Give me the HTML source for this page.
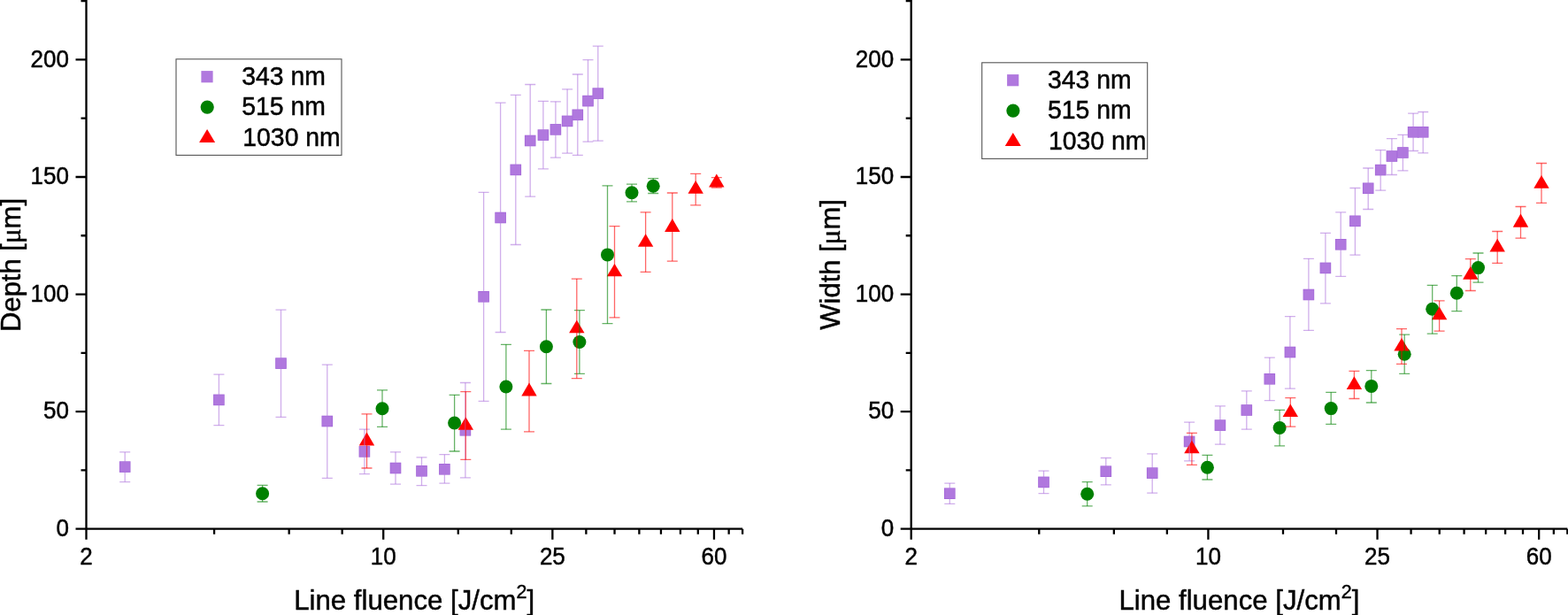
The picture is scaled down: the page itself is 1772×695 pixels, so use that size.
<!DOCTYPE html>
<html><head><meta charset="utf-8"><style>
html,body{margin:0;padding:0;background:#fff;}
body{width:1772px;height:695px;overflow:hidden;}
svg{display:block;font-family:"Liberation Sans",Arial,sans-serif;}
text{stroke:#000;stroke-width:0.45px;}
</style></head><body>
<svg width="1772" height="695" viewBox="0 0 1772 695">
<rect width="1772" height="695" fill="#fff"/>
<path d="M97.5 0V597.7H839.12M85.5 597.7H97.5M85.5 465.13H97.5M85.5 332.55H97.5M85.5 199.98H97.5M85.5 67.4H97.5M91.5 531.41H97.5M91.5 398.84H97.5M91.5 266.26H97.5M91.5 133.69H97.5M91.5 1.11H97.5M97.5 597.7V609.7M433.22 597.7V609.7M624.35 597.7V609.7M806.96 597.7V609.7M242.08 597.7V603.7M326.66 597.7V603.7M386.67 597.7V603.7M517.79 597.7V603.7M577.8 597.7V603.7M662.38 597.7V603.7M694.53 597.7V603.7M722.38 597.7V603.7M746.95 597.7V603.7M768.93 597.7V603.7M788.81 597.7V603.7M823.66 597.7V603.7M839.12 597.7V603.7" stroke="#000" stroke-width="2.3" fill="none"/>
<g font-size="26" text-anchor="end">
<text transform="matrix(1 0 0 1.045 77.9 606)">0</text>
<text transform="matrix(1 0 0 1.045 77.9 473.43)">50</text>
<text transform="matrix(1 0 0 1.045 77.9 340.85)">100</text>
<text transform="matrix(1 0 0 1.045 77.9 208.28)">150</text>
<text transform="matrix(1 0 0 1.045 77.9 75.7)">200</text>
</g><g font-size="26" text-anchor="middle">
<text transform="matrix(1 0 0 1.045 97.5 637.5)">2</text>
<text transform="matrix(1 0 0 1.045 433.22 637.5)">10</text>
<text transform="matrix(1 0 0 1.045 624.35 637.5)">25</text>
<text transform="matrix(1 0 0 1.045 806.96 637.5)">60</text>
</g>
<text x="332.2" y="689" font-size="31.2">Line fluence [J/cm<tspan font-size="21.4" dy="-12.8">2</tspan><tspan dy="12.8">]</tspan></text>
<text transform="translate(23 375) rotate(-90)" font-size="31">Depth [<tspan font-family="Liberation Serif">μ</tspan>m]</text>
<rect x="199" y="66.8" width="187" height="108.6" fill="none" stroke="#555" stroke-width="1.1"/>
<rect x="227.4" y="80.1" width="13.2" height="13.2" fill="#B078DE"/>
<circle cx="234.2" cy="121.1" r="7.6" fill="#008000"/>
<path d="M234.1 145.9l9 15.1h-18z" fill="#FF0000"/>
<g font-size="28.4">
<text transform="matrix(1 0 0 1.045 273.2 96.3)">343 nm</text>
<text transform="matrix(1 0 0 1.045 273.2 130.4)">515 nm</text>
<text transform="matrix(1 0 0 1.045 274.3 165)">1030 nm</text>
</g>
<g fill="#A264D8"><rect x="134.9" y="521.3" width="12.6" height="12.6"/><rect x="241.1" y="445.6" width="12.6" height="12.6"/><rect x="311.2" y="404.3" width="12.6" height="12.6"/><rect x="363.5" y="469.7" width="12.6" height="12.6"/><rect x="405.6" y="504.1" width="12.6" height="12.6"/><rect x="440.7" y="522.7" width="12.6" height="12.6"/><rect x="470.2" y="526" width="12.6" height="12.6"/><rect x="496.1" y="524" width="12.6" height="12.6"/><rect x="519.6" y="480" width="12.6" height="12.6"/><rect x="540.3" y="329" width="12.6" height="12.6"/><rect x="559.3" y="239.7" width="12.6" height="12.6"/><rect x="576.5" y="185.6" width="12.6" height="12.6"/><rect x="592.9" y="152.7" width="12.6" height="12.6"/><rect x="607.6" y="146.3" width="12.6" height="12.6"/><rect x="621.6" y="140.1" width="12.6" height="12.6"/><rect x="634.8" y="130.6" width="12.6" height="12.6"/><rect x="646.5" y="123.5" width="12.6" height="12.6"/><rect x="658.2" y="107.8" width="12.6" height="12.6"/><rect x="669.5" y="99.3" width="12.6" height="12.6"/></g>
<g fill="#B078DE"><rect x="135.6" y="522" width="11.2" height="11.2"/><rect x="241.8" y="446.3" width="11.2" height="11.2"/><rect x="311.9" y="405" width="11.2" height="11.2"/><rect x="364.2" y="470.4" width="11.2" height="11.2"/><rect x="406.3" y="504.8" width="11.2" height="11.2"/><rect x="441.4" y="523.4" width="11.2" height="11.2"/><rect x="470.9" y="526.7" width="11.2" height="11.2"/><rect x="496.8" y="524.7" width="11.2" height="11.2"/><rect x="520.3" y="480.7" width="11.2" height="11.2"/><rect x="541" y="329.7" width="11.2" height="11.2"/><rect x="560" y="240.4" width="11.2" height="11.2"/><rect x="577.2" y="186.3" width="11.2" height="11.2"/><rect x="593.6" y="153.4" width="11.2" height="11.2"/><rect x="608.3" y="147" width="11.2" height="11.2"/><rect x="622.3" y="140.8" width="11.2" height="11.2"/><rect x="635.5" y="131.3" width="11.2" height="11.2"/><rect x="647.2" y="124.2" width="11.2" height="11.2"/><rect x="658.9" y="108.5" width="11.2" height="11.2"/><rect x="670.2" y="100" width="11.2" height="11.2"/></g>
<g fill="#008000"><circle cx="296.6" cy="557.7" r="7.5"/><circle cx="432" cy="461.8" r="7.5"/><circle cx="513.6" cy="478" r="7.5"/><circle cx="571.9" cy="437" r="7.5"/><circle cx="617.4" cy="391.7" r="7.5"/><circle cx="654.9" cy="386.5" r="7.5"/><circle cx="686.5" cy="287.9" r="7.5"/><circle cx="714" cy="217.7" r="7.5"/><circle cx="738.2" cy="210.2" r="7.5"/></g>
<g fill="#FF0000"><path d="M414.5 488.4L423.2 503.4H405.8Z"/><path d="M526.3 471.3L535 485.7H517.6Z"/><path d="M598 432.6L606.7 447.4H589.3Z"/><path d="M651.8 361.8L660.5 376.3H643.1Z"/><path d="M694.5 298L703.2 312.3H685.8Z"/><path d="M729.6 264.3L738.3 278.7H720.9Z"/><path d="M759.8 247L768.5 262H751.1Z"/><path d="M786.2 203.9L794.9 218.8H777.5Z"/><path d="M809.8 196.4L818.5 211.5H801.1Z"/></g>
<g fill="none" stroke-width="1.3" stroke-opacity="0.6">
<path d="M141.2 510.9V544.6" stroke="#B078DE"/><path d="M135.2 510.9H147.2M135.2 544.6H147.2" stroke="#B078DE"/>
<path d="M247.4 423.2V480.7" stroke="#B078DE"/><path d="M241.4 423.2H253.4M241.4 480.7H253.4" stroke="#B078DE"/>
<path d="M317.5 350.2V471.4" stroke="#B078DE"/><path d="M311.5 350.2H323.5M311.5 471.4H323.5" stroke="#B078DE"/>
<path d="M369.8 412.1V540.3" stroke="#B078DE"/><path d="M363.8 412.1H375.8M363.8 540.3H375.8" stroke="#B078DE"/>
<path d="M411.9 485.1V535.6" stroke="#B078DE"/><path d="M405.9 485.1H417.9M405.9 535.6H417.9" stroke="#B078DE"/>
<path d="M447 510.8V547.1" stroke="#B078DE"/><path d="M441 510.8H453M441 547.1H453" stroke="#B078DE"/>
<path d="M476.5 516.8V548.7" stroke="#B078DE"/><path d="M470.5 516.8H482.5M470.5 548.7H482.5" stroke="#B078DE"/>
<path d="M502.4 513.7V546.1" stroke="#B078DE"/><path d="M496.4 513.7H508.4M496.4 546.1H508.4" stroke="#B078DE"/>
<path d="M525.9 432.5V539.8" stroke="#B078DE"/><path d="M519.9 432.5H531.9M519.9 539.8H531.9" stroke="#B078DE"/>
<path d="M546.6 217.3V453.4" stroke="#B078DE"/><path d="M540.6 217.3H552.6M540.6 453.4H552.6" stroke="#B078DE"/>
<path d="M565.6 116.2V375.5" stroke="#B078DE"/><path d="M559.6 116.2H571.6M559.6 375.5H571.6" stroke="#B078DE"/>
<path d="M582.8 107.4V276.5" stroke="#B078DE"/><path d="M576.8 107.4H588.8M576.8 276.5H588.8" stroke="#B078DE"/>
<path d="M599.2 95.5V222.2" stroke="#B078DE"/><path d="M593.2 95.5H605.2M593.2 222.2H605.2" stroke="#B078DE"/>
<path d="M613.9 114.4V190.8" stroke="#B078DE"/><path d="M607.9 114.4H619.9M607.9 190.8H619.9" stroke="#B078DE"/>
<path d="M627.9 114.8V178.1" stroke="#B078DE"/><path d="M621.9 114.8H633.9M621.9 178.1H633.9" stroke="#B078DE"/>
<path d="M641.1 100.8V173.1" stroke="#B078DE"/><path d="M635.1 100.8H647.1M635.1 173.1H647.1" stroke="#B078DE"/>
<path d="M652.8 84V175.4" stroke="#B078DE"/><path d="M646.8 84H658.8M646.8 175.4H658.8" stroke="#B078DE"/>
<path d="M664.5 67.6V160.2" stroke="#B078DE"/><path d="M658.5 67.6H670.5M658.5 160.2H670.5" stroke="#B078DE"/>
<path d="M675.8 52.2V159.2" stroke="#B078DE"/><path d="M669.8 52.2H681.8M669.8 159.2H681.8" stroke="#B078DE"/>
<path d="M296.6 548.4V567" stroke="#008000"/><path d="M290.6 548.4H302.6M290.6 567H302.6" stroke="#008000"/>
<path d="M432 440.9V482.4" stroke="#008000"/><path d="M426 440.9H438M426 482.4H438" stroke="#008000"/>
<path d="M513.6 446.3V510" stroke="#008000"/><path d="M507.6 446.3H519.6M507.6 510H519.6" stroke="#008000"/>
<path d="M571.9 389.3V485.2" stroke="#008000"/><path d="M565.9 389.3H577.9M565.9 485.2H577.9" stroke="#008000"/>
<path d="M617.4 350V433.5" stroke="#008000"/><path d="M611.4 350H623.4M611.4 433.5H623.4" stroke="#008000"/>
<path d="M654.9 350.7V422.3" stroke="#008000"/><path d="M648.9 350.7H660.9M648.9 422.3H660.9" stroke="#008000"/>
<path d="M686.5 209.8V365.7" stroke="#008000"/><path d="M680.5 209.8H692.5M680.5 365.7H692.5" stroke="#008000"/>
<path d="M714 208.2V227.8" stroke="#008000"/><path d="M708 208.2H720M708 227.8H720" stroke="#008000"/>
<path d="M738.2 201.6V218.5" stroke="#008000"/><path d="M732.2 201.6H744.2M732.2 218.5H744.2" stroke="#008000"/>
<path d="M414.5 467.8V529" stroke="#FF0000"/><path d="M408.5 467.8H420.5M408.5 529H420.5" stroke="#FF0000"/>
<path d="M526.3 442.6V519.4" stroke="#FF0000"/><path d="M520.3 442.6H532.3M520.3 519.4H532.3" stroke="#FF0000"/>
<path d="M598 396.4V487.8" stroke="#FF0000"/><path d="M592 396.4H604M592 487.8H604" stroke="#FF0000"/>
<path d="M651.8 315.1V427.6" stroke="#FF0000"/><path d="M645.8 315.1H657.8M645.8 427.6H657.8" stroke="#FF0000"/>
<path d="M694.5 255.7V358.9" stroke="#FF0000"/><path d="M688.5 255.7H700.5M688.5 358.9H700.5" stroke="#FF0000"/>
<path d="M729.6 239.8V307.4" stroke="#FF0000"/><path d="M723.6 239.8H735.6M723.6 307.4H735.6" stroke="#FF0000"/>
<path d="M759.8 218V295.1" stroke="#FF0000"/><path d="M753.8 218H765.8M753.8 295.1H765.8" stroke="#FF0000"/>
<path d="M786.2 196.4V231.8" stroke="#FF0000"/><path d="M780.2 196.4H792.2M780.2 231.8H792.2" stroke="#FF0000"/>
<path d="M809.8 200.6V212" stroke="#FF0000"/><path d="M803.8 200.6H815.8M803.8 212H815.8" stroke="#FF0000"/>
</g>
<path d="M1029.7 0V597.7H1771.32M1017.7 597.7H1029.7M1017.7 465.13H1029.7M1017.7 332.55H1029.7M1017.7 199.98H1029.7M1017.7 67.4H1029.7M1023.7 531.41H1029.7M1023.7 398.84H1029.7M1023.7 266.26H1029.7M1023.7 133.69H1029.7M1023.7 1.11H1029.7M1029.7 597.7V609.7M1365.42 597.7V609.7M1556.55 597.7V609.7M1739.16 597.7V609.7M1174.28 597.7V603.7M1258.86 597.7V603.7M1318.87 597.7V603.7M1449.99 597.7V603.7M1510 597.7V603.7M1594.58 597.7V603.7M1626.73 597.7V603.7M1654.58 597.7V603.7M1679.15 597.7V603.7M1701.13 597.7V603.7M1721.01 597.7V603.7M1755.86 597.7V603.7M1771.32 597.7V603.7" stroke="#000" stroke-width="2.3" fill="none"/>
<g font-size="26" text-anchor="end">
<text transform="matrix(1 0 0 1.045 1010.1 606)">0</text>
<text transform="matrix(1 0 0 1.045 1010.1 473.43)">50</text>
<text transform="matrix(1 0 0 1.045 1010.1 340.85)">100</text>
<text transform="matrix(1 0 0 1.045 1010.1 208.28)">150</text>
<text transform="matrix(1 0 0 1.045 1010.1 75.7)">200</text>
</g><g font-size="26" text-anchor="middle">
<text transform="matrix(1 0 0 1.045 1029.7 637.5)">2</text>
<text transform="matrix(1 0 0 1.045 1365.42 637.5)">10</text>
<text transform="matrix(1 0 0 1.045 1556.55 637.5)">25</text>
<text transform="matrix(1 0 0 1.045 1739.16 637.5)">60</text>
</g>
<text x="1264.4" y="689" font-size="31.2">Line fluence [J/cm<tspan font-size="21.4" dy="-12.8">2</tspan><tspan dy="12.8">]</tspan></text>
<text transform="translate(948.8 372.7) rotate(-90)" font-size="31">Width [<tspan font-family="Liberation Serif">μ</tspan>m]</text>
<rect x="1109.7" y="70.8" width="187" height="108.6" fill="none" stroke="#555" stroke-width="1.1"/>
<rect x="1138.1" y="84.1" width="13.2" height="13.2" fill="#B078DE"/>
<circle cx="1144.9" cy="125.1" r="7.6" fill="#008000"/>
<path d="M1144.8 149.9l9 15.1h-18z" fill="#FF0000"/>
<g font-size="28.4">
<text transform="matrix(1 0 0 1.045 1183.9 100.3)">343 nm</text>
<text transform="matrix(1 0 0 1.045 1183.9 134.4)">515 nm</text>
<text transform="matrix(1 0 0 1.045 1185 169)">1030 nm</text>
</g>
<g fill="#A264D8"><rect x="1067" y="551.4" width="12.6" height="12.6"/><rect x="1173.2" y="538.6" width="12.6" height="12.6"/><rect x="1243.5" y="526.4" width="12.6" height="12.6"/><rect x="1295.9" y="528.3" width="12.6" height="12.6"/><rect x="1337.8" y="492.7" width="12.6" height="12.6"/><rect x="1372.6" y="474.3" width="12.6" height="12.6"/><rect x="1402.5" y="457.2" width="12.6" height="12.6"/><rect x="1428.5" y="422" width="12.6" height="12.6"/><rect x="1451.6" y="391.7" width="12.6" height="12.6"/><rect x="1472.6" y="326.7" width="12.6" height="12.6"/><rect x="1491.6" y="296.6" width="12.6" height="12.6"/><rect x="1508.9" y="270" width="12.6" height="12.6"/><rect x="1525.1" y="243.5" width="12.6" height="12.6"/><rect x="1539.9" y="206.5" width="12.6" height="12.6"/><rect x="1553.9" y="185.8" width="12.6" height="12.6"/><rect x="1566.6" y="170.2" width="12.6" height="12.6"/><rect x="1579.1" y="166.2" width="12.6" height="12.6"/><rect x="1590.8" y="143" width="12.6" height="12.6"/><rect x="1601.9" y="143" width="12.6" height="12.6"/></g>
<g fill="#B078DE"><rect x="1067.7" y="552.1" width="11.2" height="11.2"/><rect x="1173.9" y="539.3" width="11.2" height="11.2"/><rect x="1244.2" y="527.1" width="11.2" height="11.2"/><rect x="1296.6" y="529" width="11.2" height="11.2"/><rect x="1338.5" y="493.4" width="11.2" height="11.2"/><rect x="1373.3" y="475" width="11.2" height="11.2"/><rect x="1403.2" y="457.9" width="11.2" height="11.2"/><rect x="1429.2" y="422.7" width="11.2" height="11.2"/><rect x="1452.3" y="392.4" width="11.2" height="11.2"/><rect x="1473.3" y="327.4" width="11.2" height="11.2"/><rect x="1492.3" y="297.3" width="11.2" height="11.2"/><rect x="1509.6" y="270.7" width="11.2" height="11.2"/><rect x="1525.8" y="244.2" width="11.2" height="11.2"/><rect x="1540.6" y="207.2" width="11.2" height="11.2"/><rect x="1554.6" y="186.5" width="11.2" height="11.2"/><rect x="1567.3" y="170.9" width="11.2" height="11.2"/><rect x="1579.8" y="166.9" width="11.2" height="11.2"/><rect x="1591.5" y="143.7" width="11.2" height="11.2"/><rect x="1602.6" y="143.7" width="11.2" height="11.2"/></g>
<g fill="#008000"><circle cx="1228.7" cy="558.2" r="7.5"/><circle cx="1364.4" cy="528.2" r="7.5"/><circle cx="1446.1" cy="483.5" r="7.5"/><circle cx="1504.2" cy="461.6" r="7.5"/><circle cx="1549.8" cy="436.4" r="7.5"/><circle cx="1587.2" cy="400.2" r="7.5"/><circle cx="1618.7" cy="349.2" r="7.5"/><circle cx="1646.3" cy="331.2" r="7.5"/><circle cx="1670.5" cy="302.6" r="7.5"/></g>
<g fill="#FF0000"><path d="M1346.9 497.7L1355.6 512.3H1338.2Z"/><path d="M1458.3 456.4L1467 470.9H1449.6Z"/><path d="M1530.4 425.3L1539.1 440.1H1521.7Z"/><path d="M1584 382L1592.7 396.6H1575.3Z"/><path d="M1626.6 346.8L1635.3 361.3H1617.9Z"/><path d="M1661.8 301L1670.5 315.7H1653.1Z"/><path d="M1692.2 269.8L1700.9 284.6H1683.5Z"/><path d="M1718.5 241.5L1727.2 256.7H1709.8Z"/><path d="M1742 198L1750.7 212.8H1733.3Z"/></g>
<g fill="none" stroke-width="1.3" stroke-opacity="0.6">
<path d="M1073.3 546.1V569.4" stroke="#B078DE"/><path d="M1067.3 546.1H1079.3M1067.3 569.4H1079.3" stroke="#B078DE"/>
<path d="M1179.5 532.1V557.7" stroke="#B078DE"/><path d="M1173.5 532.1H1185.5M1173.5 557.7H1185.5" stroke="#B078DE"/>
<path d="M1249.8 517.5V547.9" stroke="#B078DE"/><path d="M1243.8 517.5H1255.8M1243.8 547.9H1255.8" stroke="#B078DE"/>
<path d="M1302.2 512.8V557.2" stroke="#B078DE"/><path d="M1296.2 512.8H1308.2M1296.2 557.2H1308.2" stroke="#B078DE"/>
<path d="M1344.1 477.1V520.8" stroke="#B078DE"/><path d="M1338.1 477.1H1350.1M1338.1 520.8H1350.1" stroke="#B078DE"/>
<path d="M1378.9 458.9V502.2" stroke="#B078DE"/><path d="M1372.9 458.9H1384.9M1372.9 502.2H1384.9" stroke="#B078DE"/>
<path d="M1408.8 441.9V485.2" stroke="#B078DE"/><path d="M1402.8 441.9H1414.8M1402.8 485.2H1414.8" stroke="#B078DE"/>
<path d="M1434.8 404.1V452.7" stroke="#B078DE"/><path d="M1428.8 404.1H1440.8M1428.8 452.7H1440.8" stroke="#B078DE"/>
<path d="M1457.9 357.6V439.2" stroke="#B078DE"/><path d="M1451.9 357.6H1463.9M1451.9 439.2H1463.9" stroke="#B078DE"/>
<path d="M1478.9 292.3V373.4" stroke="#B078DE"/><path d="M1472.9 292.3H1484.9M1472.9 373.4H1484.9" stroke="#B078DE"/>
<path d="M1497.9 263.4V342.8" stroke="#B078DE"/><path d="M1491.9 263.4H1503.9M1491.9 342.8H1503.9" stroke="#B078DE"/>
<path d="M1515.2 239.9V312.3" stroke="#B078DE"/><path d="M1509.2 239.9H1521.2M1509.2 312.3H1521.2" stroke="#B078DE"/>
<path d="M1531.4 212.5V288.1" stroke="#B078DE"/><path d="M1525.4 212.5H1537.4M1525.4 288.1H1537.4" stroke="#B078DE"/>
<path d="M1546.2 190V236.5" stroke="#B078DE"/><path d="M1540.2 190H1552.2M1540.2 236.5H1552.2" stroke="#B078DE"/>
<path d="M1560.2 169.6V215.2" stroke="#B078DE"/><path d="M1554.2 169.6H1566.2M1554.2 215.2H1566.2" stroke="#B078DE"/>
<path d="M1572.9 156.7V197.5" stroke="#B078DE"/><path d="M1566.9 156.7H1578.9M1566.9 197.5H1578.9" stroke="#B078DE"/>
<path d="M1585.4 152.4V192.8" stroke="#B078DE"/><path d="M1579.4 152.4H1591.4M1579.4 192.8H1591.4" stroke="#B078DE"/>
<path d="M1597.1 128.1V170.5" stroke="#B078DE"/><path d="M1591.1 128.1H1603.1M1591.1 170.5H1603.1" stroke="#B078DE"/>
<path d="M1608.2 126.5V172.9" stroke="#B078DE"/><path d="M1602.2 126.5H1614.2M1602.2 172.9H1614.2" stroke="#B078DE"/>
<path d="M1228.7 544.7V571.9" stroke="#008000"/><path d="M1222.7 544.7H1234.7M1222.7 571.9H1234.7" stroke="#008000"/>
<path d="M1364.4 514.4V542" stroke="#008000"/><path d="M1358.4 514.4H1370.4M1358.4 542H1370.4" stroke="#008000"/>
<path d="M1446.1 463.3V503.8" stroke="#008000"/><path d="M1440.1 463.3H1452.1M1440.1 503.8H1452.1" stroke="#008000"/>
<path d="M1504.2 443.3V479.3" stroke="#008000"/><path d="M1498.2 443.3H1510.2M1498.2 479.3H1510.2" stroke="#008000"/>
<path d="M1549.8 418.6V455" stroke="#008000"/><path d="M1543.8 418.6H1555.8M1543.8 455H1555.8" stroke="#008000"/>
<path d="M1587.2 378.1V422.3" stroke="#008000"/><path d="M1581.2 378.1H1593.2M1581.2 422.3H1593.2" stroke="#008000"/>
<path d="M1618.7 322.3V377.2" stroke="#008000"/><path d="M1612.7 322.3H1624.7M1612.7 377.2H1624.7" stroke="#008000"/>
<path d="M1646.3 311.6V351.6" stroke="#008000"/><path d="M1640.3 311.6H1652.3M1640.3 351.6H1652.3" stroke="#008000"/>
<path d="M1670.5 286V319.2" stroke="#008000"/><path d="M1664.5 286H1676.5M1664.5 319.2H1676.5" stroke="#008000"/>
<path d="M1346.9 489.3V525.3" stroke="#FF0000"/><path d="M1340.9 489.3H1352.9M1340.9 525.3H1352.9" stroke="#FF0000"/>
<path d="M1458.3 449.7V482.2" stroke="#FF0000"/><path d="M1452.3 449.7H1464.3M1452.3 482.2H1464.3" stroke="#FF0000"/>
<path d="M1530.4 419.4V450.5" stroke="#FF0000"/><path d="M1524.4 419.4H1536.4M1524.4 450.5H1536.4" stroke="#FF0000"/>
<path d="M1584 371.6V411.4" stroke="#FF0000"/><path d="M1578 371.6H1590M1578 411.4H1590" stroke="#FF0000"/>
<path d="M1626.6 339.9V374.1" stroke="#FF0000"/><path d="M1620.6 339.9H1632.6M1620.6 374.1H1632.6" stroke="#FF0000"/>
<path d="M1661.8 292.6V328.5" stroke="#FF0000"/><path d="M1655.8 292.6H1667.8M1655.8 328.5H1667.8" stroke="#FF0000"/>
<path d="M1692.2 261.5V297.4" stroke="#FF0000"/><path d="M1686.2 261.5H1698.2M1686.2 297.4H1698.2" stroke="#FF0000"/>
<path d="M1718.5 233.5V269.1" stroke="#FF0000"/><path d="M1712.5 233.5H1724.5M1712.5 269.1H1724.5" stroke="#FF0000"/>
<path d="M1742 184.5V229.4" stroke="#FF0000"/><path d="M1736 184.5H1748M1736 229.4H1748" stroke="#FF0000"/>
</g>
</svg>
</body></html>
